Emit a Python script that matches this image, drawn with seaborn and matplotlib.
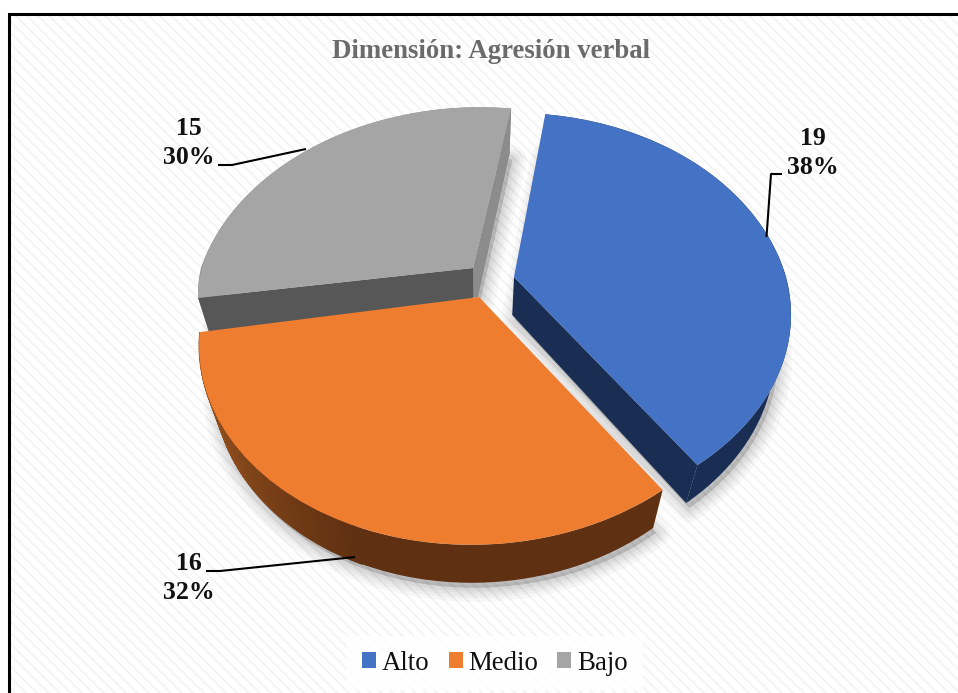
import numpy as np
import matplotlib
matplotlib.use("Agg")
import matplotlib.pyplot as plt
from matplotlib.patches import Patch, Rectangle
from matplotlib.transforms import Transform
import seaborn as sns

title = "Dimensión: Agresión verbal"
categories = ["Alto", "Medio", "Bajo"]
counts = [19, 16, 15]
percents = [38, 32, 30]
colors = ["#4472C4", "#EF7D30", "#A5A5A5"]

sns.set_theme(style="white")
plt.rcParams["font.family"] = ["Liberation Serif", "DejaVu Sans"]
plt.rcParams["hatch.linewidth"] = 1.5

W, H = 958, 693
fig = plt.figure(figsize=(W / 100, H / 100), dpi=100, facecolor="white")
ax = fig.add_axes([0, 0, 1, 1])

RX, RY, K = 272.0, 195.0, 0.213

# per-slice view tweaks: apex, shear above/below the apex, stretch above/below, wall height
view = {
    "Alto": dict(apex=(514, 277), up=0.0, down=0.034, s_up=1.02, s_down=0.975, wall=38),
    "Medio": dict(apex=(479, 297), up=0.0, down=0.032, s_up=1.0, s_down=1.0, wall=38),
    "Bajo": dict(apex=(473, 268), up=0.043, down=-0.11, s_up=1.0, s_down=0.85, wall=46),
}


class PieProjection(Transform):
    """Perspective view of the unit pie plane, in pixel-sized data units."""
    input_dims = output_dims = 2

    def __init__(self, cat, lift=0.0):
        super().__init__()
        self.cat, self.lift = cat, lift

    def transform_non_affine(self, values):
        v = view[self.cat]
        values = np.asarray(values, dtype=float)
        w = 1 + K * values[:, 1]
        dx = RX * values[:, 0] / w
        dy = -RY * values[:, 1] / w
        dy = np.where(dy < 0, dy * v["s_up"], dy * v["s_down"])
        dx = dx + v["up"] * np.maximum(-dy, 0) - v["down"] * np.maximum(dy, 0)
        x = v["apex"][0] + dx
        y = v["apex"][1] + dy
        x = x + self.lift * 0.052 * (480 - x)
        y = y + self.lift * v["wall"]
        return np.column_stack([x, y])


def outline(cat, angles, lift=0.0):
    a = np.radians(angles)
    return PieProjection(cat, lift).transform(np.column_stack([np.cos(a), np.sin(a)]))


def centre(cat, lift=0.0):
    return PieProjection(cat, lift).transform(np.array([[0.0, 0.0]]))


wedges, _ = ax.pie(counts, colors=colors, startangle=82, counterclock=False, radius=1,
                   wedgeprops={"linewidth": 0})
ax.set_aspect("auto")
ax.set_xlim(0, W)
ax.set_ylim(H, 0)
ax.set_axis_off()

# panel background and frame
ax.add_patch(Rectangle((9, 13), W, H, facecolor="white", edgecolor="#F4F4F4",
                       hatch="\\\\\\", linewidth=0, zorder=0))
ax.plot([9.5, 9.5, W], [H, 13.5, 13.5], color="black", lw=2.2, zorder=0.5,
        solid_joinstyle="miter")

z_base = {"Bajo": 2, "Alto": 4, "Medio": 6}
side = {"Alto": "#1A2E54", "Medio": "#5F3011", "Bajo": "#8E8E8E"}

# soft shadows
for cat, wedge in zip(categories, wedges):
    ang = np.linspace(wedge.theta1, wedge.theta2, 120)
    pts = np.vstack([centre(cat, 1.0), outline(cat, ang, 1.0)])
    for lw in (20, 15, 11, 7, 4):
        ax.fill(pts[:, 0] + 3, pts[:, 1] + 5, facecolor="black", edgecolor="black",
                lw=lw, alpha=0.03, zorder=1, joinstyle="round")

for cat, wedge in zip(categories, wedges):
    z = z_base[cat]
    wedge.set_transform(PieProjection(cat) + ax.transData)
    wedge.set_zorder(z + 0.5)

    ang = np.linspace(wedge.theta1, wedge.theta2, 160)
    top, bot = outline(cat, ang), outline(cat, ang, 1.0)
    if cat == "Medio":
        # solid wall first so that no seams show, then the gradient towards the left edge
        q = np.vstack([top, bot[::-1]])
        ax.fill(q[:, 0], q[:, 1], color="#5F3011", lw=0, zorder=z)
        for i in range(len(ang) - 1):
            t = np.clip((ang[i] + 170) / 60, 0, 1)
            if t >= 1:
                continue
            c = (1 - t) * np.array([0.68, 0.37, 0.14]) + t * np.array([0.37, 0.19, 0.07])
            q = np.vstack([top[i:i + 2], bot[i:i + 2][::-1]])
            ax.fill(q[:, 0], q[:, 1], color=c, lw=0.8, zorder=z + 0.1)
    else:
        q = np.vstack([top, bot[::-1]])
        ax.fill(q[:, 0], q[:, 1], color=side[cat], lw=0, zorder=z)

    # radial side faces
    c0 = centre(cat)
    if cat == "Alto":
        a, b = outline(cat, np.array([wedge.theta1])), outline(cat, np.array([wedge.theta1]), 1.0)
        q = np.vstack([c0, a, b, centre(cat, 1.0)])
        ax.fill(q[:, 0], q[:, 1], color="#1A2E54", lw=0, zorder=z + 0.2)
    if cat == "Bajo":
        # right face, then the darker left face
        a, b = outline(cat, np.array([wedge.theta1])), outline(cat, np.array([wedge.theta1]), 1.0)
        foot = c0 + np.array([[5.0, 29.0]])
        q = np.vstack([c0, a, b, foot, c0 + np.array([[0.0, 29.0]])])
        ax.fill(q[:, 0], q[:, 1], color="#8C8C8C", lw=0, zorder=z + 0.2)
        a, b = outline(cat, np.array([wedge.theta2])), outline(cat, np.array([wedge.theta2]), 1.0)
        q = np.vstack([c0, a, b, centre(cat, 1.0)])
        ax.fill(q[:, 0], q[:, 1], color="#575757", lw=0, zorder=z + 0.3)

# labels and leader lines
label_xy = {"Alto": (813, 153), "Medio": (189, 578), "Bajo": (189, 143)}
leaders = {
    "Alto": ([782, 771, 766.5], [174, 174, 237]),
    "Medio": ([206, 220, 355], [571, 571, 557]),
    "Bajo": ([218, 232, 306], [165, 165, 149]),
}
for cat, n, p in zip(categories, counts, percents):
    x, y = label_xy[cat]
    ax.text(x, y, f"{n}\n{p}%", ha="center", va="center", fontsize=18.5,
            fontweight="bold", color="#111111", linespacing=1.38, zorder=10)
    ax.plot(*leaders[cat], color="black", lw=1.5, zorder=9, solid_capstyle="butt")

ax.text(491, 52, title, ha="center", va="center", fontsize=19.3, fontweight="bold",
        color="#6B6B6B", zorder=10)

handles = [Patch(facecolor=c, edgecolor="none", label=l) for c, l in zip(colors, categories)]
leg = ax.legend(handles=handles, loc="center", bbox_to_anchor=(495, 663),
                bbox_transform=ax.transData, ncol=3, frameon=True, framealpha=0.9,
                facecolor="white", edgecolor="none", fancybox=False, fontsize=19.4,
                handlelength=0.52, handleheight=0.52, handletextpad=0.22,
                columnspacing=0.7, borderpad=0.55, labelcolor="#111111")
leg.set_zorder(10)

fig.savefig("out.png", dpi=100, facecolor="white")
